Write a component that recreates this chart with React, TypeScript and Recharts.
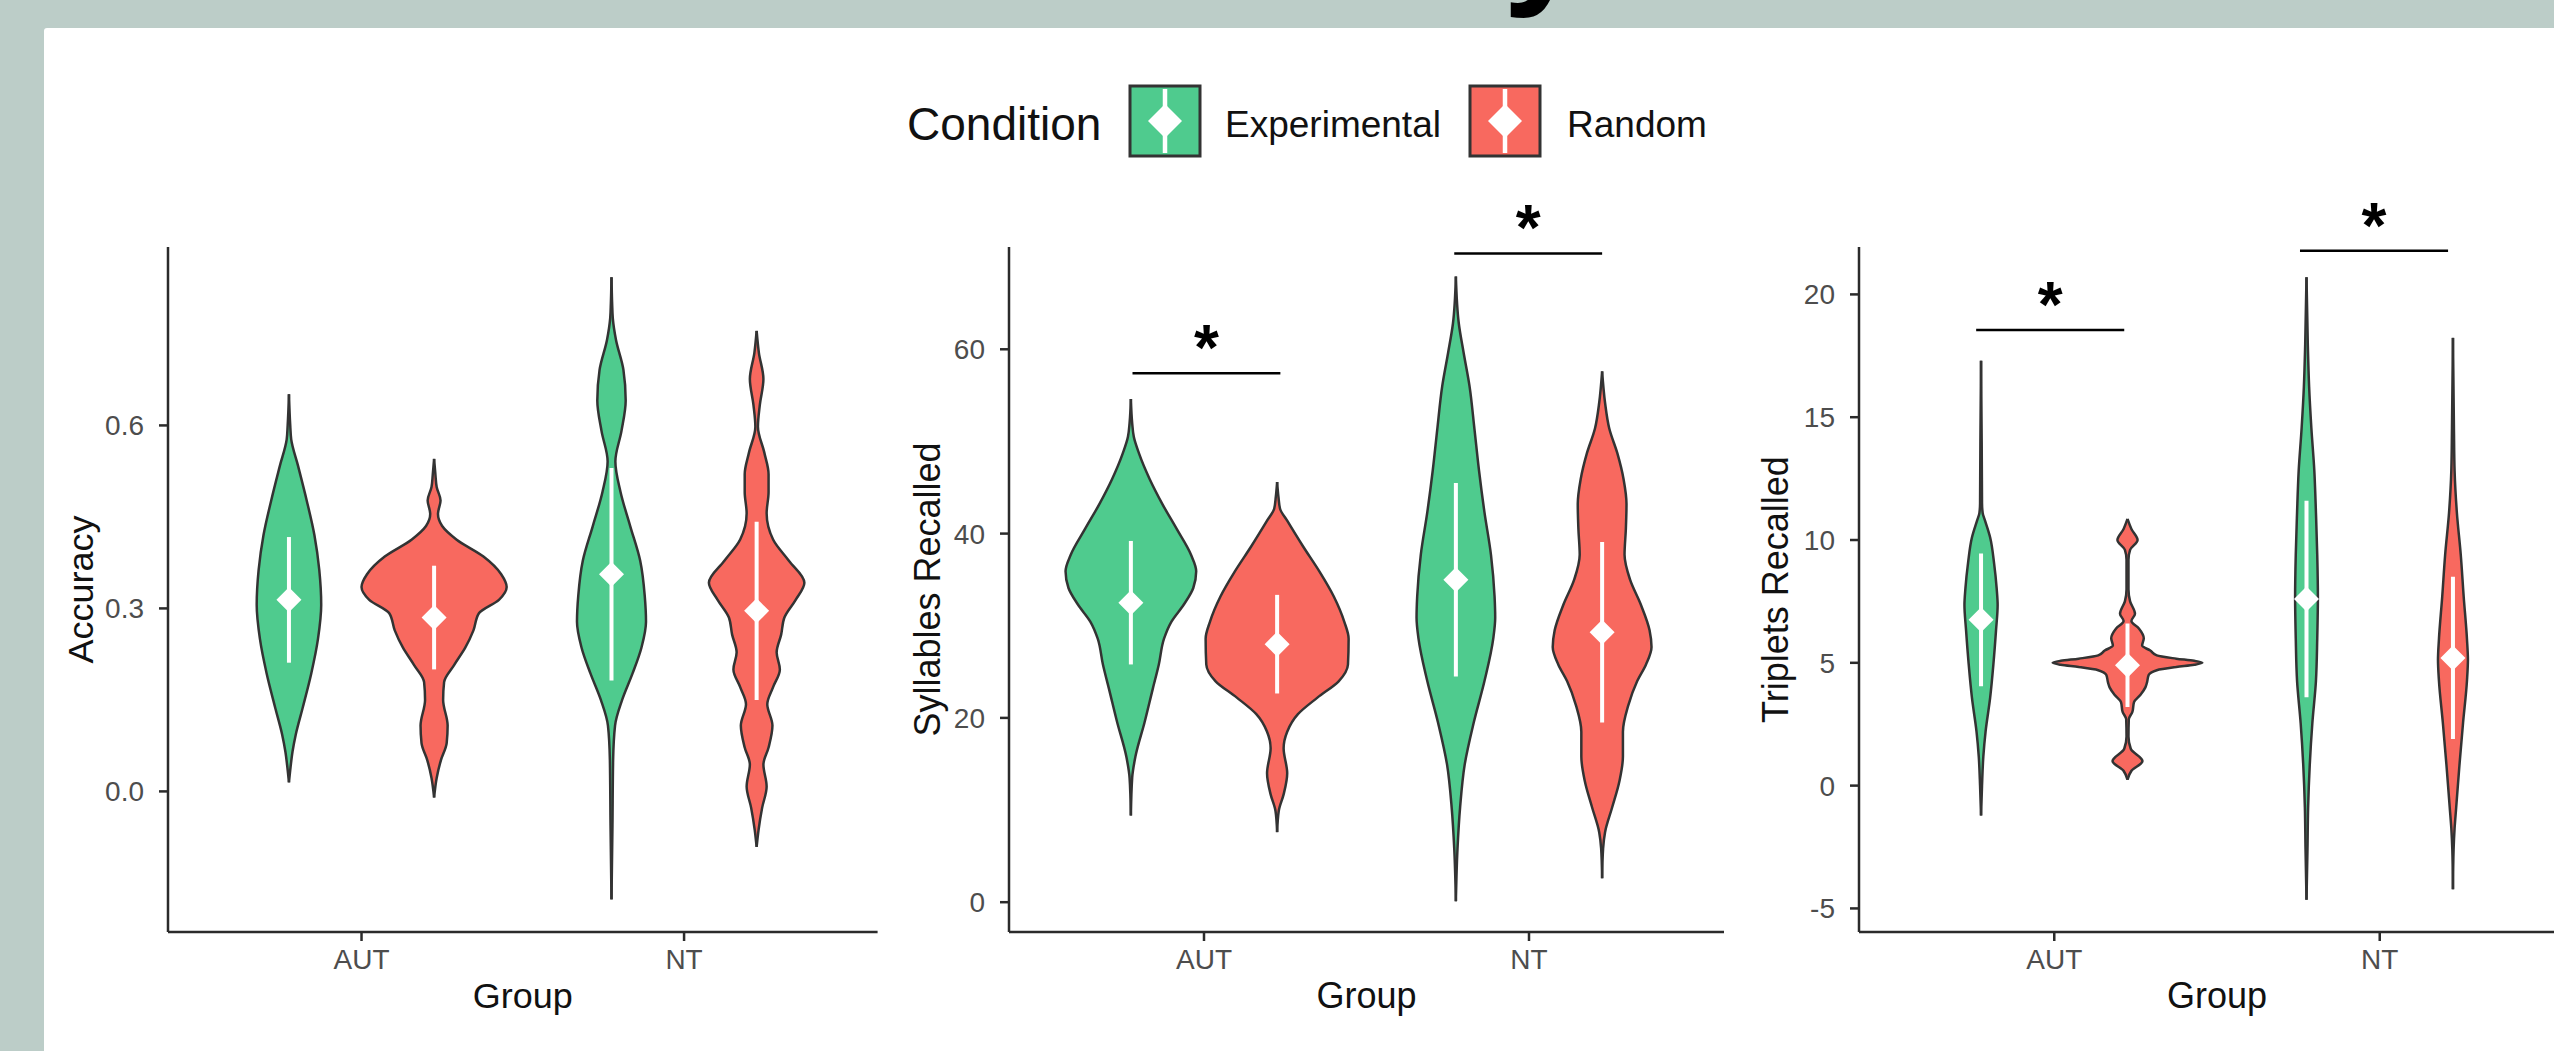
import React from "react";
import {
  ComposedChart,
  Area,
  Scatter,
  ErrorBar,
  XAxis,
  YAxis,
  ReferenceLine,
  ReferenceDot,
} from "recharts";

const FONT = '"Liberation Sans", Arial, Helvetica, sans-serif';
const FRAME = "#bccdc8";
const INK = "#2b2b2b";
const fills = ["#4fcb8e", "#f8695f"];

const groups = ["AUT", "NT"];
const conditions = ["Experimental", "Random"];

// violin outlines, top to bottom: [value, half width in group units]
const accAutExp = [[0.651, 0], [0.6, 0.004], [0.577, 0.007], [0.534, 0.028], [0.477, 0.055], [0.42, 0.079], [0.363, 0.094], [0.306, 0.1], [0.25, 0.09], [0.193, 0.069], [0.136, 0.042], [0.093, 0.021], [0.065, 0.011], [0.04, 0.005], [0.015, 0]];
const accAutRnd = [[0.545, 0], [0.52, 0.004], [0.499, 0.008], [0.477, 0.02], [0.455, 0.012], [0.435, 0.025], [0.413, 0.069], [0.385, 0.153], [0.356, 0.208], [0.335, 0.225], [0.314, 0.201], [0.292, 0.139], [0.264, 0.122], [0.236, 0.097], [0.207, 0.062], [0.179, 0.031], [0.15, 0.028], [0.108, 0.042], [0.079, 0.039], [0.051, 0.021], [0.022, 0.008], [-0.01, 0]];
const accNtExp = [[0.843, 0], [0.8, 0.002], [0.776, 0.004], [0.74, 0.014], [0.691, 0.037], [0.641, 0.044], [0.591, 0.031], [0.541, 0.012], [0.491, 0.028], [0.435, 0.058], [0.378, 0.089], [0.321, 0.103], [0.278, 0.107], [0.236, 0.093], [0.193, 0.065], [0.15, 0.033], [0.108, 0.011], [0.051, 0.005], [-0.056, 0.003], [-0.177, 0]];
const accNtRnd = [[0.755, 0], [0.719, 0.007], [0.676, 0.021], [0.634, 0.01], [0.598, 0.004], [0.555, 0.024], [0.52, 0.037], [0.491, 0.037], [0.456, 0.031], [0.413, 0.051], [0.378, 0.1], [0.342, 0.148], [0.314, 0.121], [0.285, 0.086], [0.257, 0.076], [0.228, 0.062], [0.2, 0.072], [0.171, 0.051], [0.143, 0.033], [0.108, 0.049], [0.072, 0.037], [0.044, 0.021], [0.008, 0.031], [-0.027, 0.017], [-0.063, 0.006], [-0.091, 0]];
const accMean = [0.314, 0.285, 0.356, 0.296];
const accSd = [0.103, 0.085, 0.174, 0.146];
const accTicks = [0, 0.3, 0.6];

const sylAutExp = [[54.6, 0], [52, 0.004], [50.5, 0.009], [48.7, 0.025], [45.9, 0.058], [43.2, 0.097], [40.5, 0.141], [37.7, 0.185], [35.9, 0.201], [34.1, 0.192], [32.3, 0.163], [30.4, 0.124], [28.6, 0.102], [25.8, 0.086], [23.1, 0.067], [19.5, 0.042], [15.8, 0.014], [13.5, 0.004], [9.4, 0]];
const sylAutRnd = [[45.6, 0], [44, 0.004], [42.7, 0.009], [41.4, 0.031], [38.6, 0.08], [35.9, 0.13], [33.2, 0.174], [30.4, 0.207], [28.6, 0.22], [25.8, 0.218], [24.0, 0.19], [22.2, 0.124], [20.4, 0.064], [18.5, 0.031], [16.7, 0.02], [14.0, 0.031], [11.7, 0.02], [9.9, 0.005], [7.6, 0]];
const sylNtExp = [[67.9, 0], [62.8, 0.009], [59.6, 0.024], [56.0, 0.042], [51.4, 0.057], [46.9, 0.071], [42.3, 0.088], [37.7, 0.108], [33.2, 0.119], [30.9, 0.121], [28.6, 0.115], [24.0, 0.088], [19.5, 0.055], [14.9, 0.027], [10.3, 0.013], [5.8, 0.005], [0.1, 0]];
const sylNtRnd = [[57.6, 0], [54.2, 0.009], [51.4, 0.022], [48.7, 0.047], [45.9, 0.066], [43.2, 0.075], [40.5, 0.073], [37.7, 0.069], [35.0, 0.086], [32.3, 0.119], [29.5, 0.146], [27.7, 0.152], [25.8, 0.135], [24.0, 0.108], [21.3, 0.08], [18.5, 0.064], [15.8, 0.064], [13.1, 0.053], [10.3, 0.031], [7.6, 0.009], [5.8, 0.003], [2.6, 0]];
const sylMean = [32.5, 28.0, 35.0, 29.3];
const sylSd = [6.7, 5.35, 10.5, 9.8];
const sylTicks = [0, 20, 40, 60];
const sylSig = [
  { x1: 0.78, x2: 1.235, y: 57.4 },
  { x1: 1.77, x2: 2.225, y: 70.4 },
];

const triAutExp = [[17.3, 0], [14, 0.002], [11.5, 0.003], [11.1, 0.005], [10.8, 0.012], [10.1, 0.028], [9.06, 0.04], [8.03, 0.048], [7.35, 0.051], [6.32, 0.046], [4.95, 0.038], [3.58, 0.028], [2.21, 0.014], [1.18, 0.007], [0, 0.003], [-1.22, 0]];
const triAutRnd = [[10.86, 0], [10.45, 0.012], [10.0, 0.031], [9.6, 0.008], [9.2, 0.003], [8.0, 0.003], [7.5, 0.008], [7.0, 0.023], [6.7, 0.012], [6.4, 0.035], [6.0, 0.05], [5.7, 0.045], [5.5, 0.07], [5.3, 0.09], [5.17, 0.15], [5.08, 0.205], [5.0, 0.23], [4.92, 0.205], [4.83, 0.15], [4.7, 0.09], [4.5, 0.065], [4.2, 0.06], [4.0, 0.055], [3.7, 0.04], [3.4, 0.02], [3.0, 0.015], [2.7, 0.004], [2.0, 0.003], [1.5, 0.01], [1.0, 0.046], [0.6, 0.012], [0.24, 0]];
const triNtExp = [[20.7, 0], [17.97, 0.004], [16.26, 0.008], [14.55, 0.015], [12.83, 0.024], [11.12, 0.029], [9.4, 0.033], [7.69, 0.035], [5.98, 0.033], [4.26, 0.029], [2.55, 0.018], [0.84, 0.01], [-0.88, 0.005], [-2.59, 0.003], [-4.65, 0]];
const triNtRnd = [[18.23, 0], [14.55, 0.003], [12.83, 0.005], [11.12, 0.012], [9.4, 0.024], [7.69, 0.033], [5.98, 0.043], [5.12, 0.046], [4.26, 0.043], [2.55, 0.031], [0.84, 0.02], [-0.88, 0.01], [-1.74, 0.005], [-2.59, 0.002], [-4.22, 0]];
const triMean = [6.75, 4.9, 7.6, 5.2];
const triSd = [2.7, 1.7, 4.0, 3.3];
const triTicks = [-5, 0, 5, 10, 15, 20];
const triSig = [
  { x1: 0.76, x2: 1.215, y: 18.55 },
  { x1: 1.755, x2: 2.21, y: 21.78 },
];

const DODGE = 0.225;
const CHART_TOP = 150;
const CHART_H = 901;
const PLOT_TOP = 97;
const Y_AXIS_W = 110;

const panels = [
  { id: "acc", plotLeft: 167.6, plotWidth: 709.6, yLabel: "Accuracy", labelOffset: 22, domain: [-0.2305, 0.8925], ticks: accTicks, fmt: (v: number) => v.toFixed(1), violins: [accAutExp, accAutRnd, accNtExp, accNtRnd], means: accMean, sds: accSd, sig: [] as any[] },
  { id: "syl", plotLeft: 1009, plotWidth: 715, yLabel: "Syllables Recalled", labelOffset: 28, domain: [-3.234, 71.1], ticks: sylTicks, fmt: (v: number) => String(v), violins: [sylAutExp, sylAutRnd, sylNtExp, sylNtRnd], means: sylMean, sds: sylSd, sig: sylSig },
  { id: "tri", plotLeft: 1858.6, plotWidth: 716, yLabel: "Triplets Recalled", labelOffset: 26, domain: [-5.96, 21.93], ticks: triTicks, fmt: (v: number) => String(v), violins: [triAutExp, triAutRnd, triNtExp, triNtRnd], means: triMean, sds: triSd, sig: triSig },
];

const Diamond = (p: any) => {
  const r = 12.5;
  return (
    <polygon
      points={`${p.cx},${p.cy - r} ${p.cx + r},${p.cy} ${p.cx},${p.cy + r} ${p.cx - r},${p.cy}`}
      fill="#fff"
    />
  );
};

function ViolinPanel({ panel }: { panel: (typeof panels)[number] }) {
  const series = panel.violins.map((profile, i) => {
    const center = Math.floor(i / 2) + 1 + (i % 2 === 0 ? -DODGE : DODGE);
    return {
      cond: i % 2,
      center,
      data: profile.map(([v, w]) => ({ v, span: [center - w, center + w] })),
    };
  });
  const points = panel.means.map((m, i) => ({ u: series[i].center, v: m, sd: panel.sds[i] }));

  return (
    <div style={{ position: "absolute", left: panel.plotLeft - Y_AXIS_W, top: CHART_TOP }}>
      <ComposedChart
        layout="vertical"
        width={Y_AXIS_W + panel.plotWidth + 10}
        height={CHART_H}
        margin={{ top: PLOT_TOP, right: 10, bottom: 0, left: 0 }}
      >
        <XAxis
          type="number"
          dataKey="u"
          domain={[0.4, 2.6]}
          ticks={[1, 2]}
          allowDataOverflow
          interval={0}
          tickFormatter={(t: number) => groups[t - 1]}
          height={119}
          axisLine={{ stroke: INK, strokeWidth: 2.5 }}
          tickLine={{ stroke: INK, strokeWidth: 2.5 }}
          tickSize={9}
          tickMargin={8}
          tick={{ fill: "#4d4d4d", fontSize: 28 }}
          label={{ value: "Group", position: "insideBottom", offset: 43, fontSize: 36, fill: "#111" }}
        />
        <YAxis
          type="number"
          dataKey="v"
          reversed
          domain={panel.domain}
          ticks={panel.ticks}
          allowDataOverflow
          interval={0}
          tickFormatter={panel.fmt}
          width={Y_AXIS_W}
          axisLine={{ stroke: INK, strokeWidth: 2.5 }}
          tickLine={{ stroke: INK, strokeWidth: 2.5 }}
          tickSize={9}
          tickMargin={15}
          tick={{ fill: "#4d4d4d", fontSize: 28 }}
          label={{
            value: panel.yLabel,
            angle: -90,
            position: "insideLeft",
            offset: panel.labelOffset,
            fontSize: 36,
            fill: "#111",
            style: { textAnchor: "middle" },
          }}
        />
        {series.map((s, i) => (
          <Area
            key={i}
            data={s.data}
            dataKey="span"
            type="monotone"
            fill={fills[s.cond]}
            fillOpacity={1}
            stroke="#333"
            strokeWidth={2.5}
            dot={false}
            activeDot={false}
            isAnimationActive={false}
          />
        ))}
        <Scatter data={points} shape={Diamond} isAnimationActive={false}>
          <ErrorBar dataKey="sd" direction="y" width={0} stroke="#fff" strokeWidth={4} />
        </Scatter>
        {panel.sig.map((s, i) => (
          <ReferenceLine
            key={`l${i}`}
            segment={[{ x: s.x1, y: s.y }, { x: s.x2, y: s.y }]}
            stroke="#000"
            strokeWidth={2.5}
          />
        ))}
        {panel.sig.map((s, i) => (
          <ReferenceDot
            key={`d${i}`}
            x={(s.x1 + s.x2) / 2}
            y={s.y}
            r={0}
            stroke="none"
            fill="none"
            label={{ value: "*", position: "top", offset: 3, fontSize: 64, fontWeight: 700, fill: "#000" }}
          />
        ))}
      </ComposedChart>
    </div>
  );
}

function LegendKey({ x, fill }: { x: number; fill: string }) {
  const cx = x + 35;
  const cy = 121;
  const r = 17;
  return (
    <g>
      <rect x={x} y={86} width={70} height={70} fill={fill} stroke="#333" strokeWidth={3} />
      <line x1={cx} x2={cx} y1={89} y2={153} stroke="#fff" strokeWidth={4.5} />
      <polygon points={`${cx},${cy - r} ${cx + r},${cy} ${cx},${cy + r} ${cx - r},${cy}`} fill="#fff" />
    </g>
  );
}

export default function App() {
  return (
    <div
      style={{
        position: "absolute",
        left: 0,
        top: 0,
        width: 2554,
        height: 1051,
        overflow: "hidden",
        background: FRAME,
        fontFamily: FONT,
      }}
    >
      <svg width={2554} height={28} style={{ position: "absolute", left: 0, top: 0 }}>
        <text x={1503} y={-13} fontSize={150} fontWeight={700} fill="#000">
          y
        </text>
      </svg>
      <div
        style={{
          position: "absolute",
          left: 44,
          top: 28,
          width: 2510,
          height: 1023,
          background: "#fff",
          borderTopLeftRadius: 3,
        }}
      />
      <svg width={2554} height={170} style={{ position: "absolute", left: 0, top: 0 }}>
        <text x={907} y={140} fontSize={46} fill="#111">Condition</text>
        <LegendKey x={1130} fill={fills[0]} />
        <text x={1225} y={137} fontSize={37} fill="#111">{conditions[0]}</text>
        <LegendKey x={1470} fill={fills[1]} />
        <text x={1567} y={137} fontSize={37} fill="#111">{conditions[1]}</text>
      </svg>
      {panels.map((p) => (
        <ViolinPanel key={p.id} panel={p} />
      ))}
    </div>
  );
}
